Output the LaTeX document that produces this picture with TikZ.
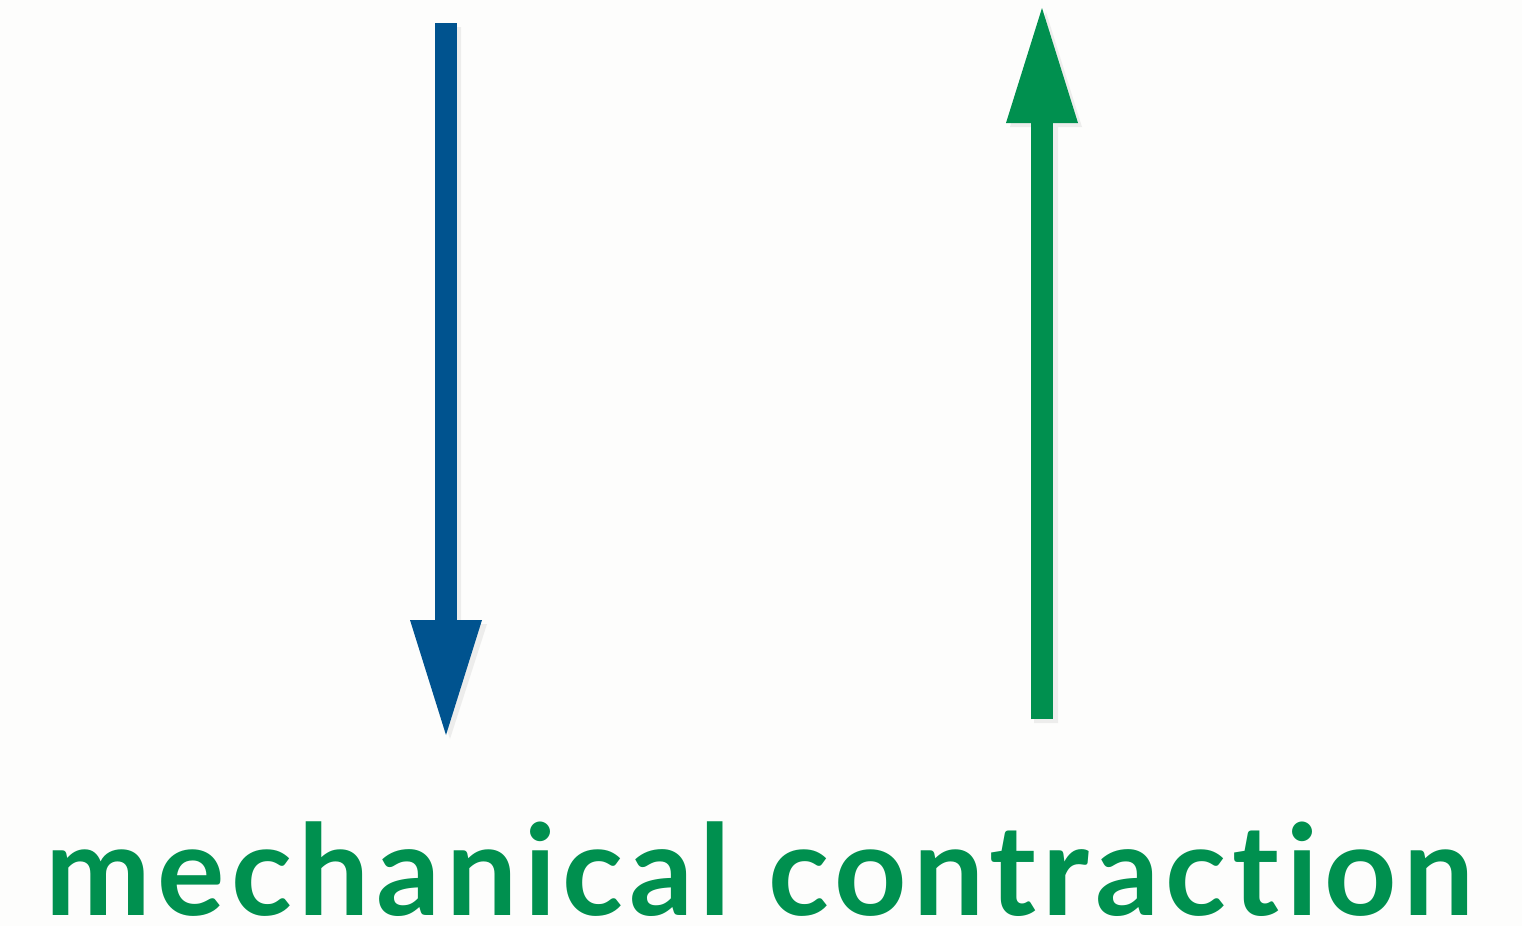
\documentclass[tikz,border=0pt]{standalone}
\usepackage{fontspec}
\newfontfamily\labelfont[LetterSpace=5,Ligatures={NoCommon,NoRare}]{Lato Bold}
\definecolor{arrowblue}{HTML}{00538F}
\definecolor{arrowgreen}{HTML}{00904F}
\definecolor{bg}{HTML}{FDFDFC}
\tikzset{
  shaft/.style={line width=11pt},
  shade/.style={black!25, opacity=0.25},
}
\begin{document}
\begin{tikzpicture}[x=0.5pt,y=-0.5pt]
\fill[bg] (0,0) rectangle (1522,926);
\useasboundingbox (0,0) rectangle (1522,926);
% blue arrow (down)
\coordinate (bstart) at (446,23);
\coordinate (bbase) at (446,621);
\fill[shade] (437,27) rectangle (461,624) (413,624) -- (487,624) -- (450,739) -- cycle;
\draw[shaft, arrowblue] (bstart) -- (bbase);
\fill[arrowblue] (410,620) -- (482,620) -- (446,735) -- cycle;
% green arrow (up)
\coordinate (gstart) at (1042,719);
\coordinate (gbase) at (1042,122);
\fill[shade] (1034,127) rectangle (1058,723) (1010,127) -- (1082,127) -- (1046,12) -- cycle;
\draw[shaft, arrowgreen] (gstart) -- (gbase);
\fill[arrowgreen] (1006,123) -- (1078,123) -- (1042,8) -- cycle;
% label
\node[anchor=base, text=arrowgreen, inner sep=0pt] (label) at (760,915)
  {\raisebox{0pt}[\height][0pt]{\resizebox{714pt}{!}{\labelfont mechanical contraction}}};
\end{tikzpicture}
\end{document}
